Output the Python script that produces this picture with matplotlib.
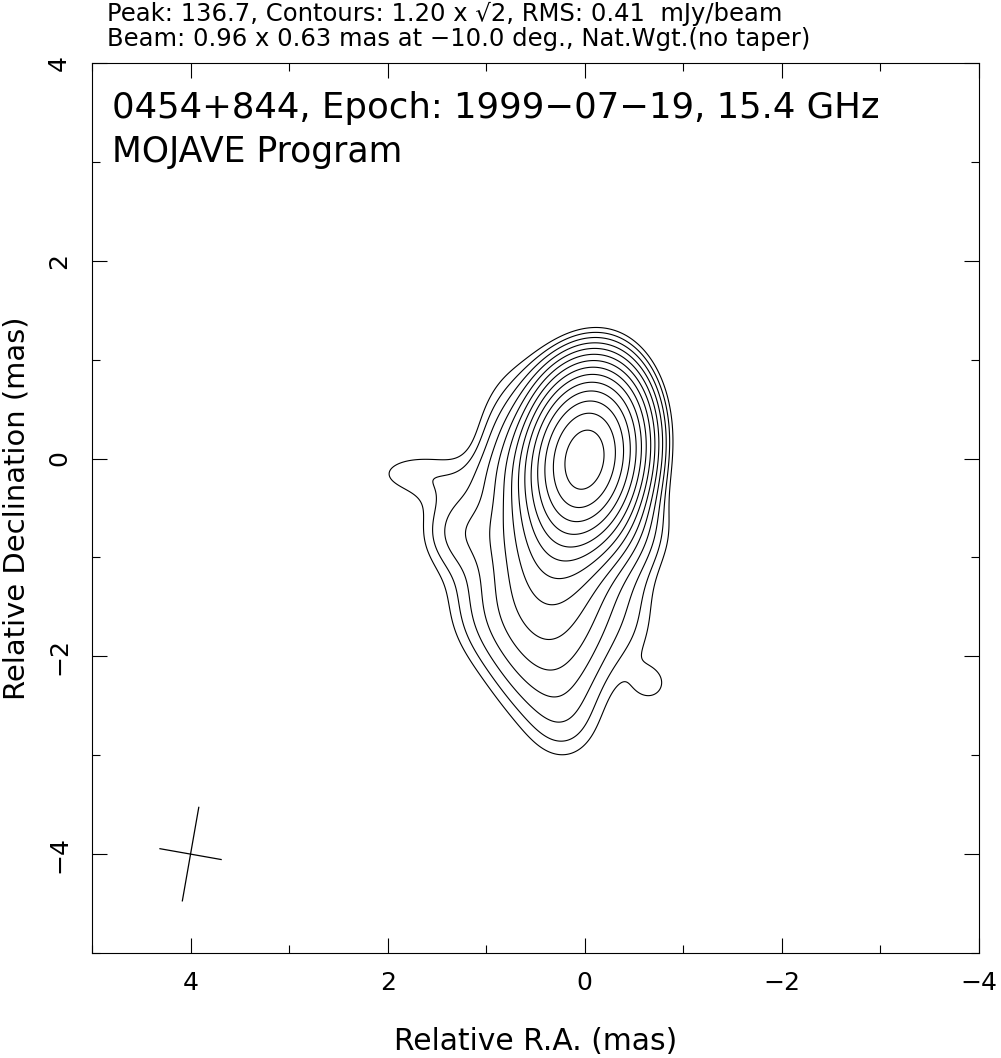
import numpy as np
import matplotlib
matplotlib.use("Agg")
import matplotlib.pyplot as plt
from matplotlib.ticker import MultipleLocator

# map header values
source = "0454+844"
epoch = "1999\u221207\u221219"
freq_ghz = 15.4
peak = 136.7
base = 1.20
rms = 0.41
beam_maj, beam_min, beam_pa = 0.96, 0.63, -10.0

# brightness model: peak (mJy/beam), position (mas),
# FWHM along / across PA (mas), PA (deg, N through E)
comp_name = ["core", "halo", "east", "north", "west", "jet1", "jet2", "jet3", "jet4",
             "se1", "se2", "arm", "plateau", "blob"]
comp_flux = [133.0, 2.5, 2.55, 0.8, 2.2, 7.0, 6.0, 2.4, 1.1, 2.4, 1.0, 1.4, 0.7, 1.15]
comp_ra   = [0.00, 0.20, 0.80, 0.45, -0.30, 0.30, 0.35, 0.35, 0.20, 1.25, 1.00, 1.70, -0.55, -0.68]
comp_dec  = [0.00, -0.55, -0.05, 0.75, -0.75, -0.85, -1.45, -2.15, -2.75, -0.72, -1.50, -0.15, -1.65, -2.28]
comp_fa   = [1.02, 1.20, 1.18, 0.80, 0.70, 0.90, 1.10, 1.00, 0.80, 0.71, 1.00, 0.50, 1.30, 0.33]
comp_fb   = [0.67, 1.00, 0.55, 0.80, 0.90, 0.75, 1.06, 0.90, 0.70, 0.71, 0.90, 1.10, 0.50, 0.33]
comp_pa   = [-10.0, 0.0, 0.0, 0.0, 0.0, 0.0, 0.0, 0.0, 0.0, 0.0, 0.0, 0.0, 0.0, 0.0]

ra = np.linspace(5, -4, 901)
dec = np.linspace(-5, 4, 901)
RA, DEC = np.meshgrid(ra, dec)

img = np.zeros_like(RA)
k = 2 * np.sqrt(2 * np.log(2))
for f, x0, y0, fa, fb, pa in zip(comp_flux, comp_ra, comp_dec, comp_fa, comp_fb, comp_pa):
    t = np.radians(pa)
    dx, dy = RA - x0, DEC - y0
    u = dx * np.sin(t) + dy * np.cos(t)
    v = dx * np.cos(t) - dy * np.sin(t)
    img += f * np.exp(-0.5 * ((u / (fa / k)) ** 2 + (v / (fb / k)) ** 2))
img *= peak / img.max()

levels = [base]
while levels[-1] * np.sqrt(2) <= peak:
    levels.append(levels[-1] * np.sqrt(2))

W, H = 1001, 1058
fig = plt.figure(figsize=(W / 100, H / 100), dpi=100)
ax = fig.add_axes([92 / W, 1 - 953 / H, 887 / W, 890 / H])
ax.contour(RA, DEC, img, levels=levels, colors="black", linewidths=0.8)

# restoring beam cross at (4, -4)
bx, by = 4.0, -4.0
for length, ang in [(beam_maj, beam_pa), (beam_min, beam_pa + 90)]:
    t = np.radians(ang)
    ddx, ddy = 0.5 * length * np.sin(t), 0.5 * length * np.cos(t)
    ax.plot([bx - ddx, bx + ddx], [by - ddy, by + ddy], color="black", lw=0.9)

ax.set_xlim(5, -4)
ax.set_ylim(-5, 4)
ax.xaxis.set_major_locator(MultipleLocator(2))
ax.xaxis.set_minor_locator(MultipleLocator(1))
ax.yaxis.set_major_locator(MultipleLocator(2))
ax.yaxis.set_minor_locator(MultipleLocator(1))
ax.tick_params(which="both", direction="in", top=True, right=True, width=0.8, colors="black")
ax.tick_params(which="major", length=10.5)
ax.tick_params(which="minor", length=5.5)
ax.tick_params(axis="x", labelsize=18, pad=13)
ax.tick_params(axis="y", labelsize=18, pad=15)
for lab in ax.get_yticklabels():
    lab.set_rotation(90)
    lab.set_va("center")
for sp in ax.spines.values():
    sp.set_linewidth(0.8)

ax.set_xlabel("Relative R.A. (mas)")
ax.set_ylabel("Relative Declination (mas)")

renderer = fig.canvas.get_renderer()


def fit(txt, width_px, vertical=False):
    txt.set_fontsize(20)
    bb = txt.get_window_extent(renderer)
    w = bb.height if vertical else bb.width
    txt.set_fontsize(20 * width_px / w)


line1 = "Peak: %.1f, Contours: %.2f x \u221a2, RMS: %.2f  mJy/beam" % (peak, base, rms)
line2 = "Beam: %.2f x %.2f mas at \u2212%.1f deg., Nat.Wgt.(no taper)" % (beam_maj, beam_min, abs(beam_pa))
fig.text(107 / W, 1 - 21 / H, line1, va="baseline", ha="left", fontsize=17.5)
fig.text(107 / W, 1 - 46 / H, line2, va="baseline", ha="left", fontsize=17.5)
t3 = fig.text(112 / W, 1 - 118 / H, "%s, Epoch: %s, %.1f GHz" % (source, epoch, freq_ghz),
              va="baseline", ha="left")
t4 = fig.text(112 / W, 1 - 162 / H, "MOJAVE Program", va="baseline", ha="left")
fit(t3, 770)
fit(t4, 291)

xl = ax.xaxis.label
yl = ax.yaxis.label
fit(xl, 283)
fit(yl, 382, vertical=True)
ax.xaxis.set_label_coords(0.5, -(1042 - 953) / 890)
ax.yaxis.set_label_coords(-(92 - 17) / 887, 0.5)
xl.set_va("center")
yl.set_va("center")

fig.savefig("out.png", dpi=100)
